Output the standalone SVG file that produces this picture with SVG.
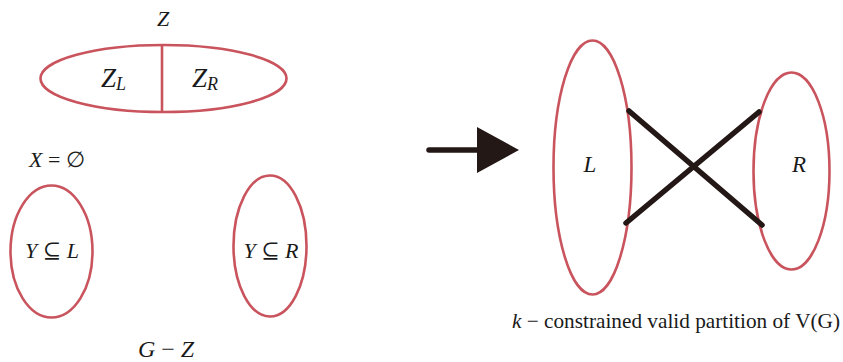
<svg xmlns="http://www.w3.org/2000/svg" width="843" height="362" viewBox="0 0 843 362">
<defs>
<style>
.set{fill:none;stroke:#c9545d;stroke-width:2.6}
.edge{fill:none;stroke:#231815;stroke-width:5.5;stroke-linecap:round}
.m{font-family:"Liberation Serif","DejaVu Serif",serif;font-style:italic;fill:#1a1a1a}
.r{font-family:"Liberation Serif","DejaVu Serif",serif;fill:#1a1a1a}
</style>
</defs>
<rect width="843" height="362" fill="#ffffff"/>
<g id="Z">
<text class="m" x="163" y="26" font-size="22" text-anchor="middle">Z</text>
<ellipse class="set" cx="163.5" cy="78.5" rx="123" ry="33.5"/>
<line class="set" x1="162" y1="45" x2="162" y2="112"/>
<text class="m" x="101" y="87" font-size="27">Z<tspan font-size="18" dy="3">L</tspan></text>
<text class="m" x="192" y="87" font-size="27">Z<tspan font-size="18" dy="3">R</tspan></text>
</g>
<g id="X">
<text class="m" x="29" y="167" font-size="22">X <tspan font-style="normal">= ∅</tspan></text>
</g>
<g id="YL">
<ellipse class="set" cx="51.5" cy="251.5" rx="41" ry="66"/>
<text class="m" x="52" y="258" font-size="22" text-anchor="middle">Y <tspan font-style="normal">⊆</tspan> L</text>
</g>
<g id="YR">
<ellipse class="set" cx="270" cy="246" rx="36.5" ry="70.5"/>
<text class="m" x="271" y="258" font-size="22" text-anchor="middle">Y <tspan font-style="normal">⊆</tspan> R</text>
</g>
<g id="GZ">
<text class="m" x="166" y="357" font-size="24" text-anchor="middle">G <tspan font-style="normal">−</tspan> Z</text>
</g>
<g id="arrow">
<line class="edge" x1="429" y1="150" x2="480" y2="150" stroke-width="7"/>
<polygon points="477,127 519,150 477,173" fill="#231815"/>
</g>
<g id="Lset">
<ellipse class="set" cx="592.5" cy="167.5" rx="39" ry="127"/>
<text class="m" x="590" y="172" font-size="23" text-anchor="middle">L</text>
</g>
<g id="Rset">
<ellipse class="set" cx="791.5" cy="171" rx="38" ry="98.5"/>
<text class="m" x="799" y="172" font-size="23" text-anchor="middle">R</text>
</g>
<g id="connectors">
<line class="edge" x1="629" y1="111" x2="762" y2="225"/>
<line class="edge" x1="626" y1="223" x2="759" y2="112"/>
</g>
<g id="caption">
<text class="r" x="512" y="328" font-size="21" textLength="328" lengthAdjust="spacingAndGlyphs"><tspan font-style="italic">k</tspan> − constrained valid partition of V(G)</text>
</g>
</svg>
